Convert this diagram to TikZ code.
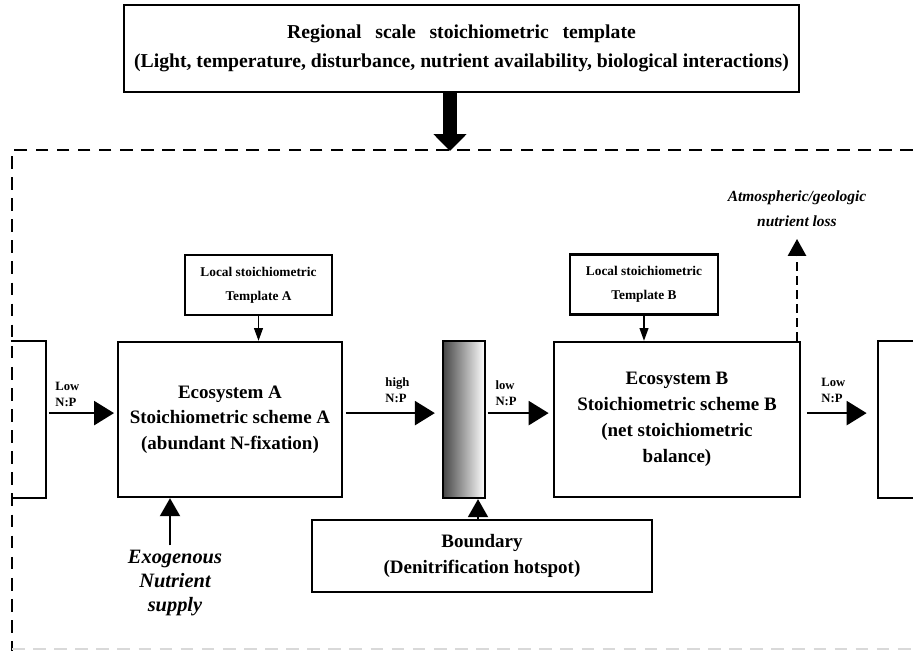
\documentclass[tikz,border=0pt]{standalone}
\usepackage{fontspec}
\setmainfont{Liberation Serif}
\usetikzlibrary{arrows.meta,positioning,calc}
\definecolor{barcolor}{RGB}{70,70,70}

\begin{document}
\begin{tikzpicture}[
    x=0.025cm, y=-0.025cm,
    every node/.style={font=\bfseries},
    box/.style={rectangle, draw=black, line width=1.6pt, fill=white, align=center, inner sep=0pt},
    ecobox/.style={box, minimum height=3.875cm, font=\bfseries\fontsize{13.5}{18}\selectfont},
    tmplbox/.style={box, minimum height=1.5cm, font=\bfseries\fontsize{9.5}{17}\selectfont},
    lbl/.style={align=left, inner sep=1pt, font=\bfseries\fontsize{9}{11}\selectfont},
    note/.style={align=center, font=\bfseries\itshape\fontsize{14.5}{17}\selectfont},
    arrow/.style={-{Triangle[length=0.5cm,width=0.6cm]}, line width=1.8pt},
    thin arrow/.style={-{Triangle[length=0.32cm,width=0.22cm]}, line width=1.1pt},
    frame/.style={dashed, dash pattern=on 9pt off 6pt, line width=2pt}
]

% page
\useasboundingbox (0,0) rectangle (913,651);
\fill[white] (0,0) rectangle (913,651);

% Dashed frame of the region
\draw[frame] (913,150) -- (12,150) -- (12,651);
\draw[frame, black!15] (12,649) -- (913,649);

% Regional template on top
\node[box, minimum width=16.875cm, minimum height=2.175cm, font=\bfseries\fontsize{14}{20.5}\selectfont] (R) at (461.5,48.5)
  {Regional\hspace{0.7em}scale\hspace{0.7em}stoichiometric\hspace{0.7em}template\\(Light, temperature, disturbance, nutrient availability, biological interactions)};
\coordinate (Rin) at (450,151);
\draw[line width=0.35cm, -{Triangle[length=0.42cm,width=0.8cm]}] (R.south -| Rin) -- (Rin);

% Ecosystems
\node[box, minimum width=0.825cm, minimum height=3.875cm, draw=none, fill=none] (W) at (28.5,419.5) {};
\node[ecobox, minimum width=5.6cm] (EA) at (230,419.5) {Ecosystem A\\Stoichiometric scheme A\\(abundant N-fixation)};
\node[box, minimum width=1.05cm, minimum height=3.925cm, left color=barcolor, right color=white] (D) at (464,419.5) {};
\node[ecobox, minimum width=6.15cm, font=\bfseries\fontsize{13.5}{18.5}\selectfont] (EB) at (677,419.5) {Ecosystem B\\Stoichiometric scheme B\\(net stoichiometric\\balance)};
\node[box, minimum width=0.85cm, minimum height=3.875cm, draw=none, fill=none] (E) at (896,419.5) {};
\draw[line width=1.6pt] (W.north west) -- (W.north east) -- (W.south east) -- (W.south west);
\draw[line width=1.6pt] (E.north east) -- (E.north west) -- (E.south west) -- (E.south east);

% Local templates
\node[tmplbox, minimum width=3.675cm] (TA) at (258.5,285) {Local stoichiometric\\Template A};
\node[tmplbox, minimum width=3.7cm] (TB) at (644,284.5) {Local stoichiometric\\Template B};

% Boundary
\node[box, minimum width=8.5cm, minimum height=1.8cm, font=\bfseries\fontsize{13.5}{19}\selectfont] (B) at (482,556) {Boundary\\(Denitrification hotspot)};

% Inputs and losses
\node[note] (X) at (175,583) {Exogenous\\Nutrient\\supply};
\node[note, font=\bfseries\itshape\fontsize{11}{18}\selectfont] (L) at (797,209) {Atmospheric/geologic\\nutrient loss};
\coordinate (Ltip) at (797,239);

% N:P fluxes
\draw[arrow, shorten <=2pt, shorten >=2pt] ([yshift=0.16cm]W.east) -- node[lbl, above, pos=0.3, yshift=0.1cm] {Low\\N:P} ([yshift=0.16cm]EA.west);
\draw[arrow, shorten >=5pt, shorten <=2pt] ([yshift=0.16cm]EA.east) -- node[lbl, above, pos=0.55, yshift=0.2cm] {high\\N:P} ([yshift=0.16cm]D.west);
\draw[arrow, shorten >=3pt, shorten <=1pt] ([yshift=0.16cm]D.east) -- node[lbl, above, pos=0.3, yshift=0.12cm] {low\\N:P} ([yshift=0.16cm]EB.west);
\draw[arrow, shorten >=8pt, shorten <=4pt] ([yshift=0.16cm]EB.east) -- node[lbl, above, pos=0.42, yshift=0.2cm] {Low\\N:P} ([yshift=0.16cm]E.west);

% Templates, supply, boundary, loss
\draw[thin arrow] (TA) -- (TA |- EA.north);
\draw[thin arrow] (TB) -- (TB |- EB.north);
\draw[arrow, line width=1.4pt, -{Triangle[length=0.45cm,width=0.5cm]}] (X.north -| 170,0) -- (EA.south -| 170,0);
\draw[arrow, line width=1.4pt, -{Triangle[length=0.45cm,width=0.5cm]}] (B.north -| 478,0) -- (D.south -| 478,0);
\draw[dashed, dash pattern=on 6pt off 4pt, line width=1.6pt, -{Triangle[length=0.42cm,width=0.45cm]}] (EB.north -| Ltip) -- (Ltip);

\end{tikzpicture}
\end{document}
